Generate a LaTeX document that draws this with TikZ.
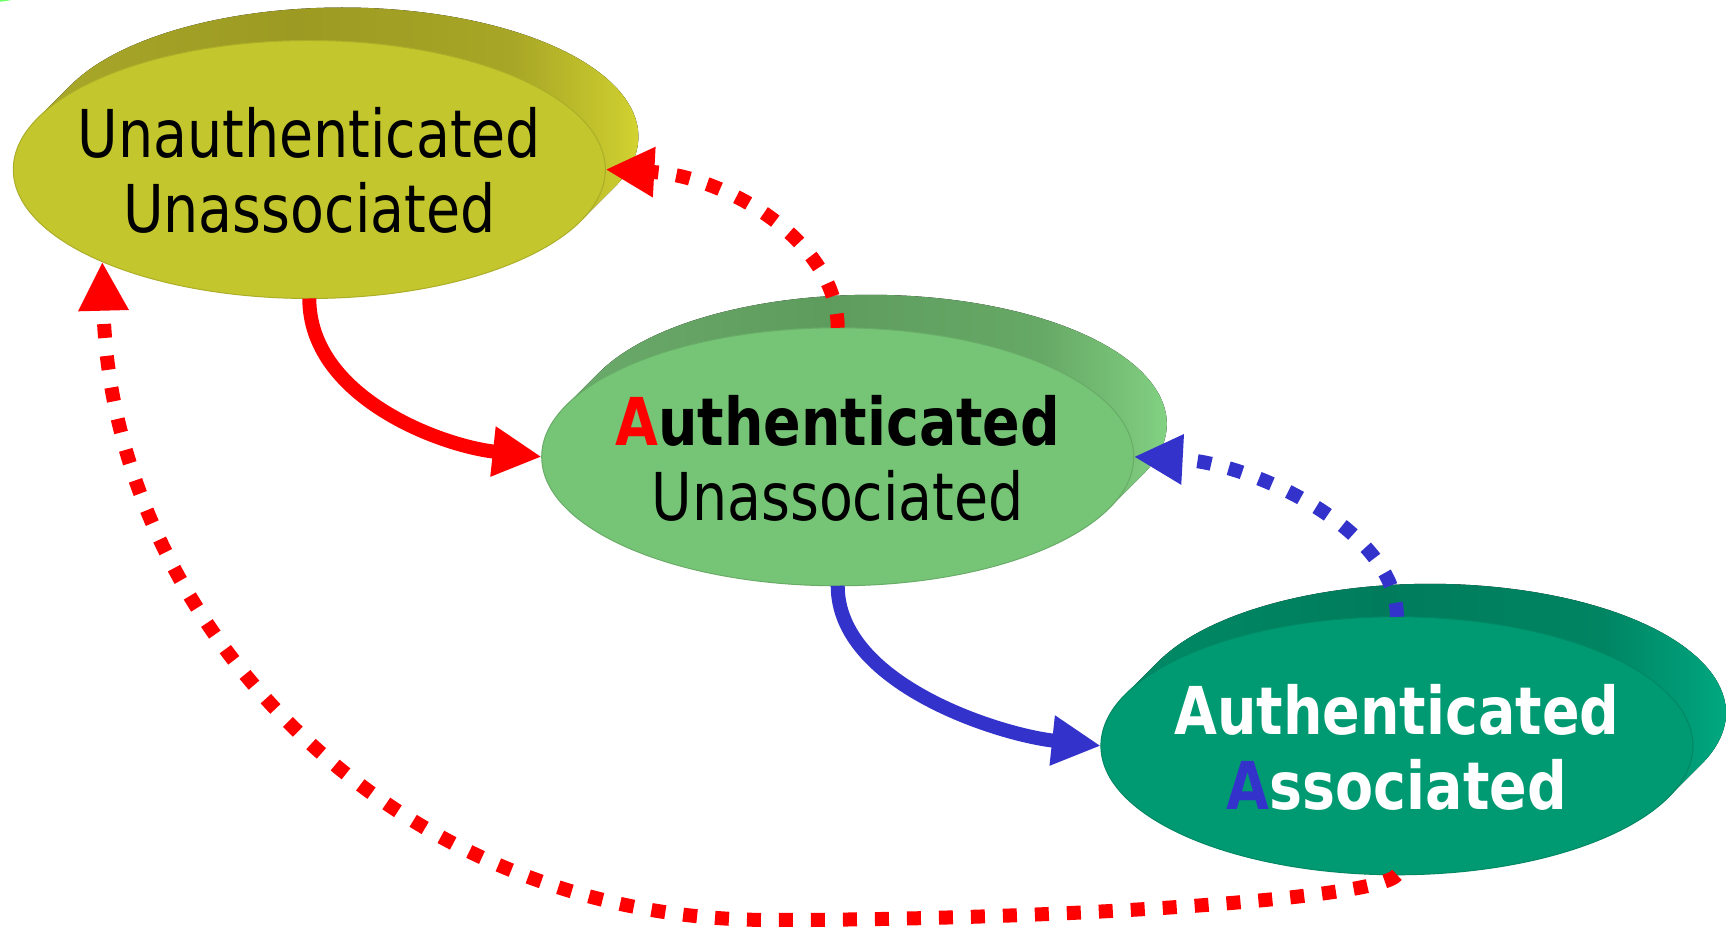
\documentclass[tikz,border=0pt]{standalone}
\usepackage{fontspec}
\newfontfamily\lbl[FakeStretch=0.84]{DejaVu Sans}
\usetikzlibrary{shapes.geometric,arrows.meta,calc}

\definecolor{yelF}{HTML}{C4C62E}
\definecolor{grnF}{HTML}{76C476}
\definecolor{teaF}{HTML}{009A72}
\definecolor{arrRed}{HTML}{FF0000}
\definecolor{arrBlue}{HTML}{3333CC}
\definecolor{glow}{HTML}{70FF66}

% side tones of the discs, from the left end to the lit right end
\definecolor{yelS0}{HTML}{A8A82A}\definecolor{yelS1}{HTML}{9C9A22}
\definecolor{yelS2}{HTML}{A8A626}\definecolor{yelS3}{HTML}{C8C82E}
\definecolor{yelS4}{HTML}{E6E636}
\definecolor{grnS0}{HTML}{6AAA6A}\definecolor{grnS1}{HTML}{5E9C5E}
\definecolor{grnS2}{HTML}{66A866}\definecolor{grnS3}{HTML}{7CC87C}
\definecolor{grnS4}{HTML}{8EE48E}
\definecolor{teaS0}{HTML}{008A66}\definecolor{teaS1}{HTML}{007C5C}
\definecolor{teaS2}{HTML}{008462}\definecolor{teaS3}{HTML}{00A07A}
\definecolor{teaS4}{HTML}{00B88A}

% the path's box spans 25bp..75bp of the shading
\pgfdeclarehorizontalshading{yelSide}{100bp}{color(0bp)=(yelS0); color(25bp)=(yelS0);
  color(45bp)=(yelS1); color(62bp)=(yelS2); color(70bp)=(yelS3); color(75bp)=(yelS4);
  color(100bp)=(yelS4)}
\pgfdeclarehorizontalshading{grnSide}{100bp}{color(0bp)=(grnS0); color(25bp)=(grnS0);
  color(45bp)=(grnS1); color(62bp)=(grnS2); color(70bp)=(grnS3); color(75bp)=(grnS4);
  color(100bp)=(grnS4)}
\pgfdeclarehorizontalshading{teaSide}{100bp}{color(0bp)=(teaS0); color(25bp)=(teaS0);
  color(45bp)=(teaS1); color(62bp)=(teaS2); color(70bp)=(teaS3); color(75bp)=(teaS4);
  color(100bp)=(teaS4)}

% extruded side of a state disc: centre, shading
\newcommand\slab[2]{%
  \fill[shading=#2]
    ($(#1)+(-271.4,51.4)$) -- ++(33,33)
    arc[start angle=156.5, end angle=-23.5, x radius=296, y radius=129]
    -- ++(-33,-33)
    arc[start angle=-23.5, end angle=156.5, x radius=296, y radius=129] -- cycle;
}

\tikzset{
  face/.style={ellipse, minimum width=592pt, minimum height=258pt,
    inner sep=0pt, outer sep=0pt, fill=#1, draw=#1!88!black, line width=1pt},
  lab/.style={font=\lbl\fontsize{66}{75}\selectfont, inner sep=0pt, anchor=base},
  conn/.style={line width=14pt, -{Triangle[length=49pt,width=47pt]}},
  dotline/.style={dash pattern=on 14pt off 18pt}
}

\begin{document}
\begin{tikzpicture}[x=1pt,y=1pt]
\useasboundingbox (0,0) rectangle (1726,929);
\fill[white] (0,0) rectangle (1726,929);

\begin{scope}
  \clip (0,0) rectangle (1726,929);
  \fill[glow] (-8,937) ellipse (32 and 10);
\end{scope}

\coordinate (cY) at (309.3,759.5);
\coordinate (cG) at (837.7,472.2);
\coordinate (cT) at (1396.9,183.2);

% disc sides
\slab{cY}{yelSide}
\slab{cG}{grnSide}
\slab{cT}{teaSide}

% disc faces
\node[face=yelF] (yel) at (cY) {};
\node[face=grnF] (grn) at (cG) {};
\node[face=teaF] (tea) at (cT) {};

% state names
\node[lab] (yelA) at ($(cY)+(0,11.5)$) {Unauthenticated};
\node[lab] (yelB) at ($(cY)+(0,-63.5)$) {Unassociated};
\node[lab] (grnA) at ($(cG)+(0,11.5)$) {\bfseries{\color{arrRed}A}uthenticated};
\node[lab] (grnB) at ($(cG)+(0,-63.5)$) {Unassociated};
\node[lab, text=white] (teaA) at ($(cT)+(0,11.5)$) {\bfseries Authenticated};
\node[lab, text=white] (teaB) at ($(cT)+(0,-63.5)$) {\bfseries{\color{arrBlue}A}ssociated};

% transitions
\coordinate (lowMid) at (771,9);
\draw[conn, arrRed] (yel.south) .. controls +(0,-98) and +(-102,11) .. (grn.west);
\draw[conn, arrBlue] (grn.south) .. controls +(0,-98) and +(-102,11) .. (tea.west);
\draw[conn, dotline, arrRed] (grn.north) .. controls +(0,86) and +(121,-6.5) .. (yel.east);
\draw[conn, dotline, arrBlue] (tea.north) .. controls +(0,86) and +(121,-6.5) .. (grn.east);
\draw[conn, dotline, arrRed] (tea.south) .. controls +(-17,-25) and +(275,0) .. (lowMid)
  .. controls +(-386,0) and +(9,-354) .. (yel.204);
\end{tikzpicture}
\end{document}
